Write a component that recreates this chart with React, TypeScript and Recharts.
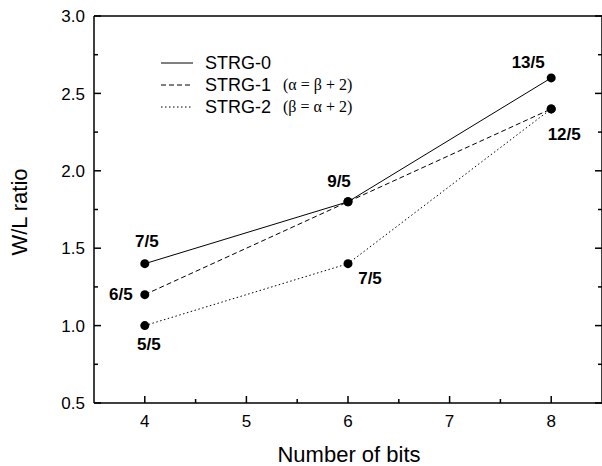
import React from 'react';
import { LineChart, Line, XAxis, YAxis, LabelList, Legend } from 'recharts';

// ---- data ----
const bits = [4, 6, 8];
const strg0 = [1.4, 1.8, 2.6];
const strg1 = [1.2, 1.8, 2.4];
const strg2 = [1.0, 1.4, 2.4];
const strg0Labels = ['7/5', '9/5', '13/5'];
const strg1Labels = ['6/5', '', ''];
const strg2Labels = ['5/5', '7/5', '12/5'];
const seriesNames = ['STRG-0', 'STRG-1', 'STRG-2'];
const seriesNotes = ['', '(\u03B1 = \u03B2 + 2)', '(\u03B2 = \u03B1 + 2)'];
const xMajorTicks = [4, 5, 6, 7, 8];
const xMinorTicks = [4.5, 5.5, 6.5, 7.5];
const yMajorTicks = [0.5, 1.0, 1.5, 2.0, 2.5, 3.0];
const yMinorTicks = [0.75, 1.25, 1.75, 2.25, 2.75];

const data = bits.map((b, i) => ({ bits: b, s0: strg0[i], s1: strg1[i], s2: strg2[i] }));
const xAllTicks = [...xMajorTicks, ...xMinorTicks].sort((a, b) => a - b);
const yAllTicks = [...yMajorTicks, ...yMinorTicks].sort((a, b) => a - b);

// ---- styles ----
const SANS = '"Liberation Sans", Arial, Helvetica, sans-serif';
const SERIF = '"Liberation Serif", "Times New Roman", serif';
const dashes: Record<string, string | undefined> = { s0: undefined, s1: '5 3', s2: '1.5 2.5' };
const labelOffsets: Record<string, [number, number][]> = {
  s0: [[2, -23], [-9, -21], [-23, -16]],
  s1: [[-24, -1], [0, 0], [0, 0]],
  s2: [[4, 18], [22, 14], [13, 25]],
};
const MAJOR = 7;
const MINOR = 4;
const TW = 1.5;

const isMajor = (list: number[], v: number) => list.some((t) => Math.abs(t - v) < 1e-9);

const BottomTick = (props: any) => {
  const { x, y, payload } = props;
  const major = isMajor(xMajorTicks, payload.value);
  return (
    <g>
      <line x1={x} x2={x} y1={y} y2={y - (major ? MAJOR : MINOR)} stroke="#000" strokeWidth={TW} />
      {major ? (
        <text x={x} y={y + 12} dy="0.71em" textAnchor="middle" fontFamily={SANS} fontSize={17} fill="#000">
          {String(payload.value)}
        </text>
      ) : null}
    </g>
  );
};

const TopTick = (props: any) => {
  const { x, y, payload } = props;
  const major = isMajor(xMajorTicks, payload.value);
  return <line x1={x} x2={x} y1={y} y2={y + (major ? MAJOR : MINOR)} stroke="#000" strokeWidth={TW} />;
};

const LeftTick = (props: any) => {
  const { x, y, payload } = props;
  const major = isMajor(yMajorTicks, payload.value);
  return (
    <g>
      <line x1={x} x2={x + (major ? MAJOR : MINOR)} y1={y} y2={y} stroke="#000" strokeWidth={TW} />
      {major ? (
        <text x={x - 9} y={y} dy="0.36em" textAnchor="end" fontFamily={SANS} fontSize={17} fill="#000">
          {Number(payload.value).toFixed(1)}
        </text>
      ) : null}
    </g>
  );
};

const RightTick = (props: any) => {
  const { x, y, payload } = props;
  const major = isMajor(yMajorTicks, payload.value);
  return <line x1={x} x2={x - (major ? MAJOR : MINOR)} y1={y} y2={y} stroke="#000" strokeWidth={TW} />;
};

const makeLabel = (texts: string[], key: string) => (props: any) => {
  const { x, y, index } = props;
  const t = texts[index];
  if (!t) return null;
  const [dx, dy] = labelOffsets[key][index];
  return (
    <text
      x={x + dx}
      y={y + dy}
      dy="0.36em"
      textAnchor="middle"
      fontFamily={SANS}
      fontWeight="bold"
      fontSize={17}
      fill="#000"
    >
      {t}
    </text>
  );
};

const LegendContent = (props: any) => {
  const payload = props.payload || [];
  return (
    <svg width={240} height={70} style={{ display: 'block' }}>
      {payload.map((p: any, i: number) => {
        const key = p.dataKey as string;
        const y = 13 + i * 22;
        return (
          <g key={key}>
            <line x1={11} x2={43} y1={y} y2={y} stroke="#000" strokeWidth={1} strokeDasharray={dashes[key]} />
            <text x={55} y={y} dy="0.36em" fontFamily={SANS} fontSize={18} fill="#000">
              {p.value}
            </text>
            {seriesNotes[i] ? (
              <text x={133} y={y} dy="0.33em" fontFamily={SERIF} fontSize={16} fill="#000">
                {seriesNotes[i]}
              </text>
            ) : null}
          </g>
        );
      })}
    </svg>
  );
};

const axisStroke = { stroke: '#000', strokeWidth: 1.5 };

export default function App() {
  return (
    <div style={{ position: 'absolute', left: 0, top: 0, width: 602, height: 466, background: '#fff' }}>
      <LineChart width={602} height={466} data={data} margin={{ top: 15, right: -1, bottom: 62, left: 93 }}>
        <XAxis
          xAxisId="main"
          dataKey="bits"
          type="number"
          domain={[3.5, 8.5]}
          allowDataOverflow
          ticks={xAllTicks}
          interval={0}
          height={1}
          tickSize={0}
          tickMargin={0}
          axisLine={axisStroke}
          tickLine={false}
          tick={<BottomTick />}
        />
        <XAxis
          xAxisId="top"
          orientation="top"
          type="number"
          domain={[3.5, 8.5]}
          allowDataOverflow
          ticks={xAllTicks}
          interval={0}
          height={1}
          tickSize={0}
          tickMargin={0}
          axisLine={axisStroke}
          tickLine={false}
          tick={<TopTick />}
        />
        <YAxis
          yAxisId="left"
          type="number"
          domain={[0.5, 3.0]}
          allowDataOverflow
          ticks={yAllTicks}
          interval={0}
          width={1}
          tickSize={0}
          tickMargin={0}
          axisLine={axisStroke}
          tickLine={false}
          tick={<LeftTick />}
        />
        <YAxis
          yAxisId="right"
          orientation="right"
          type="number"
          domain={[0.5, 3.0]}
          allowDataOverflow
          ticks={yAllTicks}
          interval={0}
          width={1}
          tickSize={0}
          tickMargin={0}
          axisLine={axisStroke}
          tickLine={false}
          tick={<RightTick />}
        />
        <Legend
          layout="vertical"
          verticalAlign="middle"
          align="center"
          content={<LegendContent />}
          wrapperStyle={{ left: 150, top: 50, width: 240, height: 70, margin: 0, padding: 0 }}
        />
        <Line
          xAxisId="main"
          yAxisId="left"
          dataKey="s0"
          name={seriesNames[0]}
          stroke="#000"
          strokeWidth={1}
          dot={{ r: 4.5, fill: '#000', stroke: '#000', strokeWidth: 0 }}
          isAnimationActive={false}
        >
          <LabelList dataKey="s0" content={makeLabel(strg0Labels, 's0')} />
        </Line>
        <Line
          xAxisId="main"
          yAxisId="left"
          dataKey="s1"
          name={seriesNames[1]}
          stroke="#000"
          strokeWidth={1}
          strokeDasharray={dashes.s1}
          dot={{ r: 4.5, fill: '#000', stroke: '#000', strokeWidth: 0 }}
          isAnimationActive={false}
        >
          <LabelList dataKey="s1" content={makeLabel(strg1Labels, 's1')} />
        </Line>
        <Line
          xAxisId="main"
          yAxisId="left"
          dataKey="s2"
          name={seriesNames[2]}
          stroke="#000"
          strokeWidth={1}
          strokeDasharray={dashes.s2}
          dot={{ r: 4.5, fill: '#000', stroke: '#000', strokeWidth: 0 }}
          isAnimationActive={false}
        >
          <LabelList dataKey="s2" content={makeLabel(strg2Labels, 's2')} />
        </Line>
        <text x={349} y={462} textAnchor="middle" fontFamily={SANS} fontSize={22} fill="#000">
          Number of bits
        </text>
        <text transform="translate(27,212) rotate(-90)" textAnchor="middle" fontFamily={SANS} fontSize={22} fill="#000">
          W/L ratio
        </text>
      </LineChart>
    </div>
  );
}
